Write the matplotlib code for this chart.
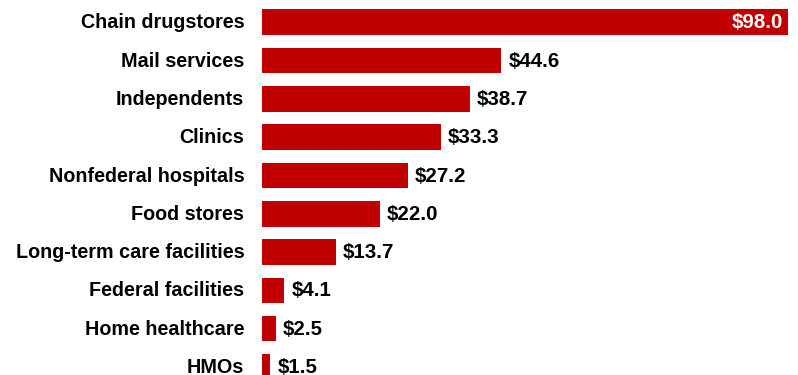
import matplotlib.pyplot as plt

# Prescription sales by outlet type ($ billions)
outlets = ['Chain drugstores', 'Mail services', 'Independents', 'Clinics',
           'Nonfederal hospitals', 'Food stores', 'Long-term care facilities',
           'Federal facilities', 'Home healthcare', 'HMOs']
sales = [98.0, 44.6, 38.7, 33.3, 27.2, 22.0, 13.7, 4.1, 2.5, 1.5]

plt.rcParams['font.family'] = ['Liberation Sans', 'DejaVu Sans']

fig = plt.figure(figsize=(7.98, 3.75), dpi=100)
ax = fig.add_axes([0.3287, 0, 0.6584, 1])

ypos = list(range(len(outlets)))
ax.barh(ypos, sales, height=0.67, color='#C00000')
ax.set_xlim(0, 98)
ax.set_ylim(9.21, -0.58)

for i, (name, v) in enumerate(zip(outlets, sales)):
    ax.annotate(name, (0, i), xytext=(-13, 1), textcoords='offset points',
                ha='right', va='center_baseline', fontsize=14.2,
                fontweight='bold', annotation_clip=False)
    if v == max(sales):
        ax.annotate(f'${v:.1f}', (v, i), xytext=(-3.5, 1), textcoords='offset points',
                    ha='right', va='center_baseline', fontsize=14.8,
                    fontweight='bold', color='white')
    else:
        ax.annotate(f'${v:.1f}', (v, i), xytext=(5, 1), textcoords='offset points',
                    ha='left', va='center_baseline', fontsize=14.8,
                    fontweight='bold')

ax.axis('off')
fig.savefig('out.png', dpi=100)
